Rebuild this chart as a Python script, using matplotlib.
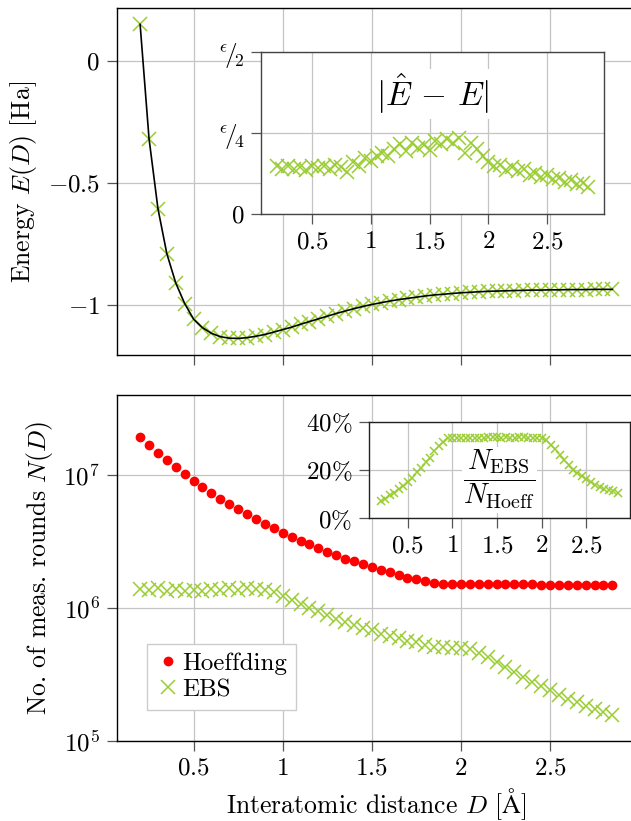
import matplotlib
matplotlib.use("Agg")
import matplotlib.pyplot as plt
import numpy as np

plt.rcParams['font.family'] = 'serif'
plt.rcParams['font.serif'] = ['cmr10']
plt.rcParams['mathtext.fontset'] = 'cm'
plt.rcParams['axes.formatter.use_mathtext'] = True

# Interatomic distance (Angstrom)
distancias = np.round(np.arange(0.20, 2.851, 0.05), 2)

# Energia exacta E(D) [Ha]
energia = [0.150, -0.318, -0.605, -0.790, -0.910, -0.994, -1.058, -1.093, -1.116, -1.130,
           -1.136, -1.137, -1.134, -1.128, -1.121, -1.111, -1.101, -1.091, -1.079, -1.068,
           -1.057, -1.046, -1.035, -1.025, -1.015, -1.006, -0.998, -0.991, -0.984, -0.978,
           -0.973, -0.968, -0.963, -0.959, -0.956, -0.953, -0.950, -0.948, -0.946, -0.944,
           -0.943, -0.942, -0.941, -0.940, -0.939, -0.939, -0.938, -0.938, -0.937, -0.937,
           -0.937, -0.936, -0.936, -0.936]

# |E_hat - E| en unidades de epsilon
error = [0.147, 0.138, 0.150, 0.140, 0.145, 0.135, 0.150, 0.142, 0.148, 0.138,
         0.152, 0.145, 0.130, 0.160, 0.150, 0.172, 0.165, 0.180, 0.190, 0.178,
         0.200, 0.215, 0.195, 0.220, 0.205, 0.212, 0.198, 0.225, 0.215, 0.232,
         0.220, 0.235, 0.190, 0.218, 0.200, 0.180, 0.160, 0.150, 0.152, 0.137,
         0.145, 0.132, 0.138, 0.122, 0.128, 0.115, 0.120, 0.108, 0.112, 0.100,
         0.104, 0.092, 0.095, 0.084]

# Numero de rondas de medida
n_hoeffding = [1.93e7, 1.68e7, 1.47e7, 1.29e7, 1.14e7, 1.01e7, 9.06e6, 8.17e6, 7.28e6, 6.59e6,
               6.01e6, 5.51e6, 5.05e6, 4.64e6, 4.30e6, 3.96e6, 3.67e6, 3.43e6, 3.20e6, 3.00e6,
               2.82e6, 2.64e6, 2.49e6, 2.35e6, 2.24e6, 2.12e6, 2.03e6, 1.93e6, 1.85e6, 1.77e6,
               1.69e6, 1.64e6, 1.58e6, 1.53e6, 1.52e6, 1.51e6, 1.51e6, 1.51e6, 1.50e6, 1.50e6,
               1.50e6, 1.50e6, 1.50e6, 1.50e6, 1.50e6, 1.49e6, 1.49e6, 1.49e6, 1.49e6, 1.49e6,
               1.49e6, 1.48e6, 1.48e6, 1.48e6]
n_ebs = [1.38e6, 1.36e6, 1.40e6, 1.35e6, 1.38e6, 1.34e6, 1.37e6, 1.35e6, 1.39e6, 1.36e6,
         1.40e6, 1.37e6, 1.40e6, 1.38e6, 1.36e6, 1.32e6, 1.22e6, 1.14e6, 1.07e6, 1.00e6,
         9.4e5, 8.8e5, 8.3e5, 7.8e5, 7.5e5, 7.1e5, 6.8e5, 6.4e5, 6.2e5, 5.9e5,
         5.6e5, 5.5e5, 5.3e5, 5.1e5, 5.05e5, 5.0e5, 5.0e5, 4.88e5, 4.58e5, 4.28e5,
         3.93e5, 3.6e5, 3.3e5, 3.03e5, 2.79e5, 2.58e5, 2.4e5, 2.22e5, 2.07e5, 1.95e5,
         1.83e5, 1.74e5, 1.65e5, 1.58e5]
ratio = np.array(n_ebs) / np.array(n_hoeffding)

verde = '#9ACD32'
gris = '#c4c4c4'
xticks = [0.5, 1, 1.5, 2, 2.5]
xlabels = [r'$0.5$', r'$1$', r'$1.5$', r'$2$', r'$2.5$']
xlim = (0.0675, 2.9825)
fs = 18
fs_lab = 18.5

W, H = 631, 821
fig = plt.figure(figsize=(W / 100, H / 100), dpi=100)


def caja(x0, y0, x1, y1):
    return [x0 / W, 1 - y1 / H, (x1 - x0) / W, (y1 - y0) / H]


def estilo(ax, color_spine='black'):
    ax.grid(True, color=gris, lw=0.9)
    ax.set_axisbelow(True)
    ax.tick_params(direction='out', length=7, width=0.9, color='#555555', labelsize=fs, pad=5)
    for s in ax.spines.values():
        s.set_color(color_spine)
        s.set_linewidth(1.0)
    ax.set_xlim(*xlim)
    ax.set_xticks(xticks)


# ---- panel superior: energia
ax1 = fig.add_axes(caja(116.5, 8.5, 636, 355))
estilo(ax1)
ax1.plot(distancias, energia, 'x', color=verde, ms=10.5, mew=1.1, zorder=2)
ax1.plot(distancias, energia, '-', color='black', lw=1.2, zorder=3)
ax1.set_ylim(-1.205, 0.215)
ax1.set_yticks([0, -0.5, -1])
ax1.set_yticklabels([r'$0$', r'$-0.5$', r'$-1$'])
ax1.set_xticklabels([])
ax1.set_ylabel(r'Energy $E(D)$ [Ha]', fontsize=fs_lab, labelpad=6)

ins1 = fig.add_axes(caja(261, 51.7, 604, 214.3))
estilo(ins1, '#444444')
ins1.plot(distancias, error, 'x', color=verde, ms=9.5, mew=1.1)
ins1.set_ylim(0, 0.5)
ins1.set_yticks([0, 0.25, 0.5])
ins1.set_yticklabels([r'$0$', r'$^{\epsilon}\!/\!_{4}$', r'$^{\epsilon}\!/\!_{2}$'])
ins1.set_xticklabels(xlabels)
ins1.text(0.5, 0.74, r'$|\hat{E}\,-\,E|$', transform=ins1.transAxes, ha='center', va='center',
          fontsize=24, bbox=dict(fc='white', ec='none', pad=2))

# ---- panel inferior: rondas de medida
ax2 = fig.add_axes(caja(116.5, 395, 636, 741))
estilo(ax2)
ax2.set_yscale('log')
ax2.plot(distancias, n_hoeffding, 'o', color='red', ms=6, mec='red', label='Hoeffding')
ax2.plot(distancias, n_ebs, 'x', color=verde, ms=10.5, mew=1.1, label='EBS')
ax2.set_ylim(1e5, 10 ** 7.6)
ax2.set_yticks([1e5, 1e6, 1e7])
ax2.set_yticklabels([r'$10^5$', r'$10^6$', r'$10^7$'])
ax2.minorticks_off()
ax2.set_xticklabels(xlabels)
ax2.set_ylabel(r'No. of meas. rounds $N(D)$', fontsize=fs_lab, labelpad=6)
ax2.set_xlabel(r'Interatomic distance $D$ [$\mathrm{\AA}$]', fontsize=fs_lab, labelpad=5)
leg = ax2.legend(loc='lower left', bbox_to_anchor=(0.059, 0.09), borderaxespad=0,
                 fontsize=fs, fancybox=False, framealpha=1, edgecolor='#cccccc',
                 handletextpad=0.05, handlelength=1.0, borderpad=0.35, labelspacing=0.15)
leg.get_frame().set_linewidth(1.0)

ins2 = fig.add_axes(caja(369, 421.7, 629.5, 518.3))
estilo(ins2, '#222222')
ins2.plot(distancias, ratio, 'x', color=verde, ms=5.5, mew=1.1)
ins2.set_ylim(0, 0.4)
ins2.set_yticks([0, 0.2, 0.4])
ins2.set_yticklabels([r'$0\%$', r'$20\%$', r'$40\%$'])
ins2.set_xticklabels(xlabels)
ins2.text(0.5, 0.4, r'$\dfrac{N_{\mathrm{EBS}}}{N_{\mathrm{Hoeff}}}$', transform=ins2.transAxes,
          ha='center', va='center', fontsize=20.5, bbox=dict(fc='white', ec='none', pad=1))

fig.savefig('out.png', dpi=100)
